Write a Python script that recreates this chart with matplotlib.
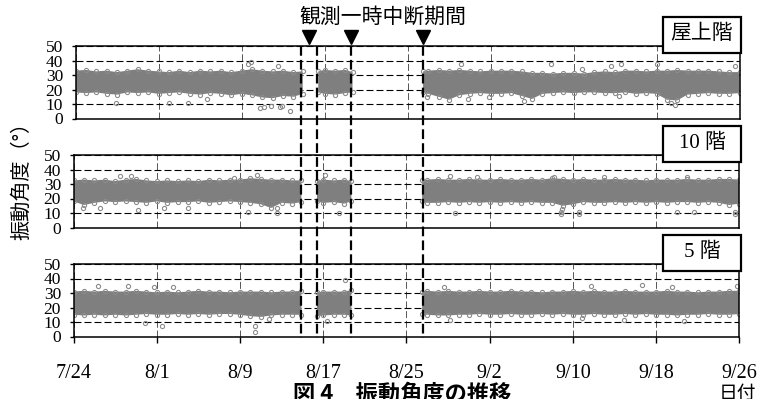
import numpy as np
import matplotlib.pyplot as plt
from matplotlib.patches import Rectangle

plt.rcParams['font.family'] = ['Liberation Serif', 'Noto Sans CJK JP']
plt.rcParams['lines.scale_dashes'] = False

W, H = 774, 399
nan = np.nan

# sample times, days since 7/24 (nan rows break the band at the outages)
t_days = list(range(0, 22)) + [21.9, 22.6, 23.4, 24, 25, 26, 26.7, 30.0, 33.5] + list(range(34, 65))

# dense band of the scatter (upper / lower edge), per panel
roof_hi = [33, 33.5, 32.5, 33, 32, 33, 34, 33, 32.5, 32, 33, 32, 33, 32.5, 33, 32, 33, 34, 33, 32.5, 33, 32, 32.5,
           nan, 32.5, 33.5, 33, 33.5, 32, nan,
           32.5, 33, 33.5, 33, 33.5, 33, 32.5, 33, 33, 33, 32.5, 31.5, 31.5, 31, 31.5, 31.5,
           31, 32, 32.5, 32, 33, 33, 32.5, 33, 33, 33.5, 33, 33, 33, 32.5, 32, 32]
roof_lo = [18, 17.5, 18, 17, 16.5, 18, 17.5, 18, 17, 17.5, 18, 17, 16.5, 17.5, 17, 16, 17, 16, 14.5, 14, 15.5, 15, 17,
           nan, 18, 17, 16.5, 17.5, 18, nan,
           18, 17, 15, 13, 16, 17, 17.5, 17, 17, 17.5, 15.5, 13.5, 17, 17.5, 18, 17.5,
           18, 18, 17.5, 17.5, 18, 17, 17.5, 17, 13, 12.5, 16.5, 17, 17.5, 17, 17, 17.5]
f10_hi = [32.5, 33, 32.5, 33, 32, 33, 33.5, 32.5, 32, 32.5, 32, 32.5, 32, 33, 32.5, 33, 33, 34, 33.5, 33, 33, 32.5, 32.5,
          nan, 32, 33, 32.5, 33, 32, nan,
          32.5, 33, 33.5, 33, 33, 33.5, 33, 33, 33.5, 33, 33, 33.5, 33, 34, 33.5, 33,
          33.5, 33, 33, 33.5, 33, 33, 32.5, 33, 33, 33, 33.5, 33, 33, 33.5, 33.5, 33]
f10_lo = [18, 15.5, 17, 18, 17.5, 18, 17.5, 17, 18, 17, 17.5, 17.5, 18, 17, 17.5, 18, 17.5, 17, 16, 13.5, 17, 16.5, 17.5,
          nan, 18, 17, 17.5, 16.5, 18, nan,
          18, 17, 17, 17.5, 17, 17.5, 17, 17.5, 17, 17.5, 17, 17.5, 17, 17, 15, 16,
          17.5, 17, 17, 17.5, 17, 17.5, 17, 17.5, 17, 17.5, 17.5, 17, 17.5, 17, 15.5, 16.5]
f5_hi = [31, 31.5, 31, 31.5, 31, 31, 31.5, 31, 30.5, 31, 30.5, 31, 31.5, 31, 31, 30.5, 31, 31, 31, 30.5, 31, 31, 31.5,
         nan, 30.5, 31, 31, 31, 32, nan,
         31, 31.5, 31, 31.5, 31, 31, 31.5, 31, 31, 31.5, 31, 31, 30.5, 31, 31, 31.5,
         31, 31.5, 31, 31, 31.5, 31, 31, 31, 31.5, 31, 31, 30.5, 31, 31, 31.5, 31.5]
f5_lo = [15, 14.5, 15, 14.5, 15, 14.5, 15, 15.5, 15, 15, 15.5, 15, 15.5, 15, 15.5, 15.5, 15, 14, 13.5, 14.5, 15, 15, 15,
         nan, 14, 14.5, 15, 15, 14.5, nan,
         15.5, 15, 14.5, 14.5, 15, 15, 15.5, 15, 15, 15.5, 15, 15, 15.5, 15, 15.5, 15,
         15, 15.5, 15, 15, 15.5, 15, 15.5, 15, 15, 14.5, 15, 15, 15.5, 15, 15, 15.5]

# scattered points outside the band
roof_out_t = [3.9, 9.0, 10.8, 12.7, 16.6, 16.9, 17.8, 18.2, 18.8, 19.5, 19.7, 19.9, 20.7, 33.9,
              37.2, 37.8, 39.9, 43.2, 45.8, 48.8, 51.6, 52.4, 52.6, 56.0, 57.4, 57.8, 63.6]
roof_out_v = [10.6, 10.6, 11, 13.5, 37.6, 39, 7, 7.6, 8.5, 36.4, 7.6, 8.5, 5.1, 14.6,
              37.5, 13.2, 14.6, 12.4, 37.5, 34, 36.3, 15.7, 37.5, 37.5, 10.6, 9.5, 36]
f10_out_t = [0.9, 2.5, 4.5, 5.5, 6.2, 8.7, 11.0, 15.4, 16.8, 17.6, 19.6, 19.6, 24.2, 25.5, 36.2,
             36.7, 38.8, 46.2, 46.8, 46.8, 46.9, 48.6, 48.6, 51.0, 58.0, 59.0, 59.6, 63.6, 63.6]
f10_out_v = [13.2, 13.2, 35.2, 35.2, 12, 13.2, 13.2, 34, 11, 36.3, 13.2, 9.7, 36.3, 9.7, 35.2,
             9.7, 35, 35, 11, 9, 13, 9, 11, 35, 11, 35, 11, 9, 11]
f5_out_t = [2.4, 5.2, 6.9, 7.7, 8.5, 9.6, 17.4, 17.4, 18.8, 24.4, 26.1, 35.6, 36.2, 48.9, 49.7,
            52.9, 54.6, 57.5, 58.7, 63.8]
f5_out_v = [34.7, 34.7, 9.3, 34, 7, 34, 7.2, 2.8, 12, 10.8, 38.9, 34, 11.7, 12.9, 35,
            11.7, 35.6, 34, 10.6, 35]

# outage boundaries (days since 7/24) and markers
outage_lines = [21.88, 23.42, 26.7, 33.54]
outage_marks = [22.65, 26.7, 33.54]

tick_days = [0, 8, 16, 24, 32, 40, 48, 56, 64]
tick_labels = ['7/24', '8/1', '8/9', '8/17', '8/25', '9/2', '9/10', '9/18', '9/26']

panels = [('屋上階', roof_hi, roof_lo, roof_out_t, roof_out_v),
          ('10 階', f10_hi, f10_lo, f10_out_t, f10_out_v),
          ('5 階', f5_hi, f5_lo, f5_out_t, f5_out_v)]

fig = plt.figure(figsize=(W / 100, H / 100), dpi=100)

tops = [46, 155, 264]
lefts = [75.5, 73.5, 73.5]
ph = 72.5
grey = '#7f7f7f'

for i, (name, hi, lo, ot, ov) in enumerate(panels):
    l = lefts[i]
    w = 739.5 - l
    ax = fig.add_axes([l / W, 1 - (tops[i] + ph) / H, w / W, ph / H])
    ax.set_xlim(0, 64)
    ax.set_ylim(0, 50)
    ax.set_axisbelow(True)
    ax.fill_between(t_days, lo, hi, color=grey, lw=0, zorder=2)
    ax.plot(t_days, hi, 'o', ms=3, mfc='none', mec='#8c8c8c', mew=0.8, zorder=2)
    ax.plot(t_days, lo, 'o', ms=3, mfc='none', mec='#8c8c8c', mew=0.8, zorder=2)
    ax.plot(ot, ov, 'o', ms=3, mfc='none', mec='#8c8c8c', mew=0.8, zorder=2)

    ax.set_yticks(range(0, 51, 10))
    ax.set_xticks(tick_days)
    ax.grid(axis='y', color='k', linestyle=(0, (5, 2.2)), linewidth=0.8)
    ax.grid(axis='x', color='#555555', linestyle=(0, (5, 2)), linewidth=0.7)
    ax.tick_params(axis='y', direction='out', length=3, width=1, pad=6, labelsize=12.5)
    if i < 2:
        ax.tick_params(axis='x', length=0, labelbottom=False)
    else:
        ax.set_xticklabels(tick_labels)
        ax.tick_params(axis='x', direction='out', length=4, width=1, pad=16, labelsize=14.5)
    for s in ax.spines.values():
        s.set_linewidth(1.1)

    # panel name box
    bx0, bx1 = 663, 741
    by0, by1 = tops[i] - 29, tops[i] + 6.5
    fig.add_artist(Rectangle((bx0 / W, 1 - by1 / H), (bx1 - bx0) / W, (by1 - by0) / H,
                             transform=fig.transFigure, facecolor='white', edgecolor='k', lw=1.6, zorder=5))
    fig.text((bx0 + bx1) / 2 / W, 1 - (by0 + by1) / 2 / H, name, ha='center', va='center',
             fontsize=15, zorder=6)

# overlay for the outage lines running through all panels (y in pixel rows)
ov_top, ov_bot = 28, 345
oax = fig.add_axes([73.5 / W, 1 - ov_bot / H, 666 / W, (ov_bot - ov_top) / H])
oax.set_xlim(0, 64)
oax.set_ylim(ov_bot, ov_top)
oax.axis('off')
oax.vlines(outage_lines, 46, 338, colors='k', linewidth=1.6, linestyles=[(0, (7, 3))])
oax.plot(outage_marks, [37] * len(outage_marks), 'v', color='k', ms=10, clip_on=False)

fig.text(383 / W, 1 - 17 / H, '観測一時中断期間', ha='center', va='center', fontsize=15,
         family='Noto Sans CJK JP')
fig.text(22 / W, 1 - 176 / H, '振動角度（°）', rotation=90, ha='center', va='center', fontsize=14.5,
         family='Noto Sans CJK JP')
fig.text(737 / W, 1 - 393 / H, '日付', ha='center', va='center', fontsize=13.5,
         family='Noto Sans CJK JP')
fig.text(293 / W, 1 - 394 / H, '図 4　振動角度の推移', ha='left', va='center', fontsize=16,
         fontweight='bold', family='Noto Sans CJK JP')

fig.savefig('out.png', dpi=100)
